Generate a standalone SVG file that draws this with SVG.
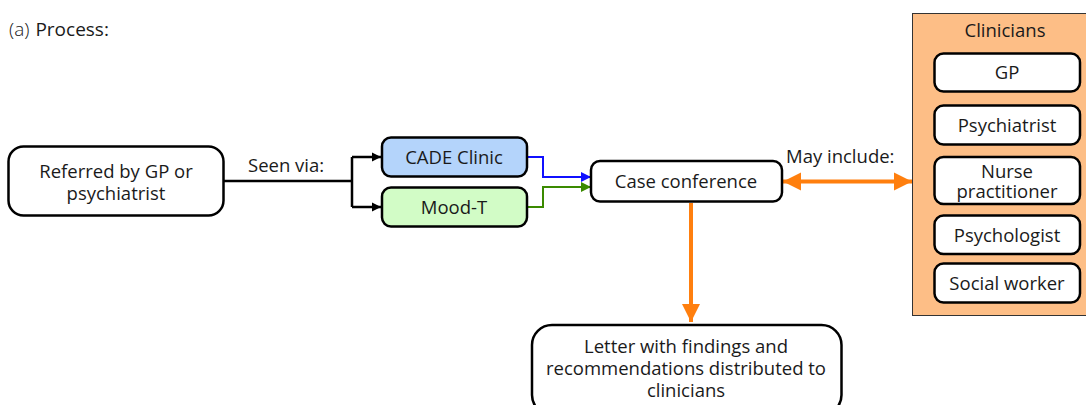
<svg xmlns="http://www.w3.org/2000/svg" width="1086" height="405" viewBox="0 0 1086 405">
  <style>
    text { font-family: "Open Sans", "Noto Sans", "Liberation Sans", sans-serif; fill: #1a1a1a; }
    .lbl { font-size: 18.5px; text-anchor: middle; }
    .edge-lbl { font-size: 18.5px; }
    .box { fill: #ffffff; stroke: #000000; stroke-width: 2.5; }
    .thin { stroke-width: 2; fill: none; }
  </style>
  <defs>
    <marker id="ah-black" viewBox="0 0 10 10" refX="10" refY="5" markerWidth="9" markerHeight="10" orient="auto" markerUnits="userSpaceOnUse">
      <path d="M0,0 L10,5 L0,10 z" fill="#000"/>
    </marker>
    <marker id="ah-blue" viewBox="0 0 10 10" refX="10" refY="5" markerWidth="10" markerHeight="10" orient="auto" markerUnits="userSpaceOnUse">
      <path d="M0,0 L10,5 L0,10 z" fill="#1010ff"/>
    </marker>
    <marker id="ah-green" viewBox="0 0 10 10" refX="10" refY="5" markerWidth="10" markerHeight="10" orient="auto" markerUnits="userSpaceOnUse">
      <path d="M0,0 L10,5 L0,10 z" fill="#3a8a00"/>
    </marker>
    <marker id="ah-orange" viewBox="0 0 10 10" refX="10" refY="5" markerWidth="18" markerHeight="22" orient="auto-start-reverse" markerUnits="userSpaceOnUse">
      <path d="M0,0 L10,5 L0,10 z" fill="#ff7f0e"/>
    </marker>
  </defs>

  <!-- heading -->
  <text x="9" y="36" style="font-size:19px"><tspan style="font-weight:300">(a)</tspan><tspan dx="6">Process:</tspan></text>

  <!-- connectors -->
  <g id="connectors">
    <path d="M224,181 H352 M352,157 V207" stroke="#000" stroke-width="2.5" fill="none"/>
    <path d="M352,157 H381" stroke="#000" stroke-width="2.5" fill="none" marker-end="url(#ah-black)"/>
    <path d="M352,207 H381" stroke="#000" stroke-width="2.5" fill="none" marker-end="url(#ah-black)"/>
    <path d="M527,157 H543 V177 H591" stroke="#1010ff" class="thin" marker-end="url(#ah-blue)"/>
    <path d="M527,207 H543 V187 H591" stroke="#3a8a00" class="thin" marker-end="url(#ah-green)"/>
    <path d="M783,181.5 H912" stroke="#ff7f0e" stroke-width="4" fill="none" marker-start="url(#ah-orange)" marker-end="url(#ah-orange)"/>
    <path d="M691,203 V322" stroke="#ff7f0e" stroke-width="4" fill="none" marker-end="url(#ah-orange)"/>
    <text class="edge-lbl" x="248" y="172">Seen via:</text>
    <text class="edge-lbl" x="786" y="163">May include:</text>
  </g>

  <g id="referred">
    <rect class="box" x="8.5" y="146.5" width="215" height="69" rx="15"/>
    <text class="lbl" x="116" y="178">Referred by GP or</text>
    <text class="lbl" x="116" y="199.5">psychiatrist</text>
  </g>

  <g id="cade">
    <rect x="382" y="137.5" width="145" height="39" rx="9" fill="#b4d4fb" stroke="#000" stroke-width="2.5"/>
    <text class="lbl" x="454" y="164">CADE Clinic</text>
  </g>

  <g id="moodt">
    <rect x="382" y="187.5" width="145" height="39" rx="9" fill="#d2fcc6" stroke="#000" stroke-width="2.5"/>
    <text class="lbl" x="454" y="214">Mood-T</text>
  </g>

  <g id="case-conference">
    <rect class="box" x="591" y="161" width="191" height="40.5" rx="9"/>
    <text class="lbl" x="686" y="188">Case conference</text>
  </g>

  <g id="letter">
    <rect class="box" x="532" y="325" width="309.5" height="90" rx="20"/>
    <text class="lbl" x="686" y="353">Letter with findings and</text>
    <text class="lbl" x="686" y="375">recommendations distributed to</text>
    <text class="lbl" x="686" y="396.5">clinicians</text>
  </g>

  <g id="clinicians">
    <rect x="912.5" y="13.5" width="180" height="302" fill="#fdbe86" stroke="#333" stroke-width="1"/>
    <text class="lbl" x="1005" y="37">Clinicians</text>
    <g id="gp">
      <rect class="box" x="934.5" y="53.5" width="145.5" height="38" rx="9"/>
      <text class="lbl" x="1007" y="79">GP</text>
    </g>
    <g id="psychiatrist">
      <rect class="box" x="934.5" y="105.5" width="145.5" height="39" rx="9"/>
      <text class="lbl" x="1007" y="131.5">Psychiatrist</text>
    </g>
    <g id="nurse">
      <rect class="box" x="934.5" y="157" width="145.5" height="47" rx="9"/>
      <text class="lbl" x="1007" y="177.5">Nurse</text>
      <text class="lbl" x="1007" y="198">practitioner</text>
    </g>
    <g id="psychologist">
      <rect class="box" x="934.5" y="215.5" width="145.5" height="38.5" rx="9"/>
      <text class="lbl" x="1007" y="241.5">Psychologist</text>
    </g>
    <g id="social-worker">
      <rect class="box" x="934.5" y="263.5" width="145.5" height="39" rx="9"/>
      <text class="lbl" x="1007" y="289.5">Social worker</text>
    </g>
  </g>
</svg>
